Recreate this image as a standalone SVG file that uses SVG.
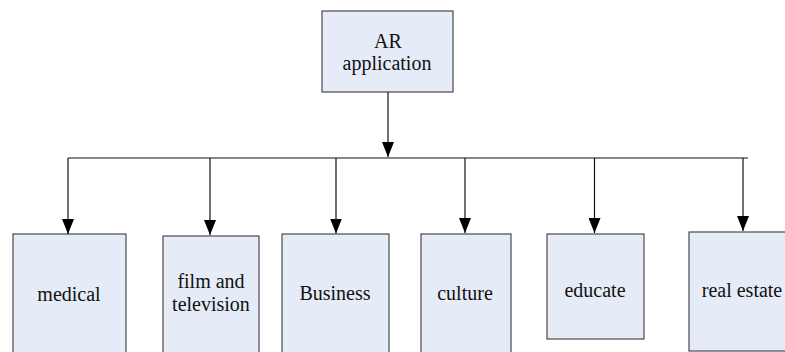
<svg xmlns="http://www.w3.org/2000/svg" width="785" height="352" viewBox="0 0 785 352">
<defs>
<style>
.box{fill:#e6ecf7;stroke:#4a4a4a;stroke-width:1.2}
.lbl{font-size:20px;fill:#111;text-anchor:middle}
.conn{stroke:#111;stroke-width:1.2;fill:none}
</style>
<marker id="arr" markerUnits="userSpaceOnUse" markerWidth="15" markerHeight="12" refX="15" refY="6" orient="auto">
<path d="M0,0 L15,6 L0,12 z" fill="#000"/>
</marker>
</defs>
<rect width="785" height="352" fill="#fff"/>
<g font-family="Liberation Serif, DejaVu Serif, serif">
<g id="ar-application">
<rect class="box" x="322" y="11" width="131" height="81"/>
<text class="lbl" x="388" y="48">AR</text>
<text class="lbl" x="387" y="70">application</text>
</g>
<g id="medical">
<rect class="box" x="13" y="234" width="113" height="130"/>
<text class="lbl" x="69" y="301">medical</text>
</g>
<g id="film-and-television">
<rect class="box" x="163" y="236" width="96" height="130"/>
<text class="lbl" x="211" y="288">film and</text>
<text class="lbl" x="211" y="311">television</text>
</g>
<g id="business">
<rect class="box" x="282" y="234" width="107" height="130"/>
<text class="lbl" x="335" y="300">Business</text>
</g>
<g id="culture">
<rect class="box" x="421" y="234" width="90" height="130"/>
<text class="lbl" x="465" y="300">culture</text>
</g>
<g id="educate">
<rect class="box" x="547" y="234" width="97" height="105"/>
<text class="lbl" x="595" y="297">educate</text>
</g>
<g id="real-estate">
<rect class="box" x="689" y="232" width="110" height="119"/>
<text class="lbl" x="742" y="297">real estate</text>
</g>
</g>
<g id="connectors">
<line class="conn" x1="388" y1="92" x2="388" y2="157" marker-end="url(#arr)"/>
<line class="conn" x1="68" y1="158" x2="748" y2="158"/>
<line class="conn" x1="68" y1="158" x2="68" y2="234" marker-end="url(#arr)"/>
<line class="conn" x1="210" y1="158" x2="210" y2="235" marker-end="url(#arr)"/>
<line class="conn" x1="336" y1="158" x2="336" y2="233.5" marker-end="url(#arr)"/>
<line class="conn" x1="465" y1="158" x2="465" y2="233" marker-end="url(#arr)"/>
<line class="conn" x1="594.5" y1="158" x2="594.5" y2="233" marker-end="url(#arr)"/>
<line class="conn" x1="743" y1="158" x2="743" y2="231" marker-end="url(#arr)"/>
</g>
</svg>
